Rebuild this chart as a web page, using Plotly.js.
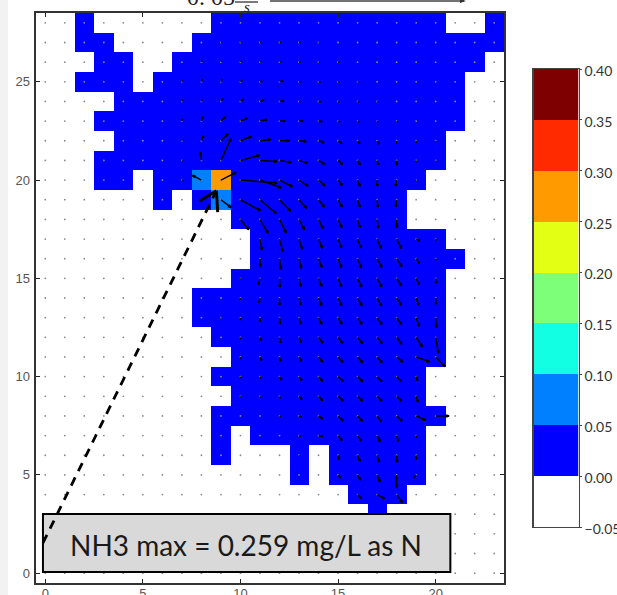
<!DOCTYPE html>
<html>
<head>
<meta charset="utf-8">
<script src="https://cdn.plot.ly/plotly-3.0.1.min.js"></script>
<style>html,body{margin:0;padding:0;background:#fff;overflow:hidden}#chart{width:617px;height:595px}</style>
</head>
<body>
<div id="chart"></div>
<script>
// Concentration grid, top row is y=28. '.' dry, '#' 0-0.05, '1' 0.05-0.10, '5' the maximum cell
const gridRows = [
"..#......############..#",
"..##....################",
"...##..################.",
"..###.################..",
"....##################..",
"...###################..",
"....#################...",
"...##################...",
"...##.##15##########....",
"......#.#1#########.....",
"..........#########.....",
"...........##########...",
"...........###########..",
"..........###########...",
"........#############...",
"........#############...",
".........############...",
"..........###########...",
".........###########....",
"..........##########....",
".........############...",
".........#.#########....",
".........#...#.#####....",
".............#.#####....",
"................###.....",
".................#......",
"........................",
"........................",
"........................"
];
const cellValues = {'#':0.02,'1':0.07,'5':0.259};

const levelEdges = [-0.05,0,0.05,0.10,0.15,0.20,0.25,0.30,0.35,0.40];
const levelColors = ['#ffffff','#0000ff','#0080ff','#13ffe3','#7dff7a','#e3ff13','#ff9a00','#ff2a00','#7f0000'];
const levelLabels = ['−0.05','0.00','0.05','0.10','0.15','0.20','0.25','0.30','0.35','0.40'];
const xTicks = [0,5,10,15,20];
const yTicks = [0,5,10,15,20,25];
const noteText = 'NH3 max = 0.259 mg/L as N';

// Velocity arrows per row: [column, u, v]
const q27=[[9,1,.5],[10,1,.5],[11,1.5,.5],[12,1.5,0],[13,1.5,0],[14,1,0]];
const q26=[[8,1,1.5],[9,1.2,1.5],[10,1.5,1.5],[11,2,1],[12,2,.5],[13,2,.2],[14,1.5,0],[15,1,0]];
const q25=[[7,.7,1.5],[8,1,2.5],[9,1.5,2.5],[10,2,2],[11,2.5,1.2],[12,3,1],[13,2.5,.3],[14,2.2,0],[15,1.5,0],[16,1,0]];
const q24=[[7,.7,2.2],[8,1,2.5],[9,1.7,2.5],[10,2.6,2],[11,3.6,1.5],[12,4,.5],[13,3,0],[14,2.7,-.3],[15,2,-.7],[16,1.3,-1],[17,.7,-.7]];
const q23=[[7,.3,2.5],[8,1,4],[9,4,4],[10,7,3],[11,7,1.5],[12,5.3,0],[13,3.7,0],[14,3.3,-.5],[15,2.5,-.7],[16,1.7,-1],[17,1.3,-1.2],[18,1,-1]];
const q22=[[7,0,1.5],[8,2,4.7],[9,7,7],[10,11,4.3],[11,10.7,1.3],[12,10,0],[13,7,-.7],[14,5,-1.7],[15,3.5,-2.3],[16,2,-2.7],[17,1.5,-3],[18,0,-3],[19,0,-2.5],[20,0,-1]];
const q21=[[7,.7,-1],[8,-1,8.3],[9,10,21.7],[10,19,5],[11,17,-1],[12,11.7,-2],[13,8.3,-2.7],[14,6,-3.7],[15,4,-3.7],[16,2.3,-4],[17,1,-4],[18,0,-4.5],[19,-.5,-2],[20,0,-1]];
const q20=[[7,1.3,-.7],[8,-9,4.7],[9,15,7.7],[10,36.7,-3],[11,21,-7.7],[12,13,-6.7],[13,9,-6],[14,6.3,-5.7],[15,4,-5.3],[16,2.3,-5.7],[17,.3,-5.7],[18,-1,-5.7],[19,-1,-1]];
const q19=[[9,10,-7.7],[10,20,-11],[11,16.3,-13.7],[12,11,-11.3],[13,7.5,-8.5],[14,5.7,-7.5],[15,4.2,-7.4],[16,2.5,-7.4],[17,.8,-7.4],[18,-.7,-7.3]];
const q18=[[10,8.3,-10.3],[11,8,-13.7],[12,6.7,-13.7],[13,5.3,-10.3],[14,4.5,-9.2],[15,3.8,-8.3],[16,2.7,-8.3],[17,1.2,-8.8],[18,0,-8.2]];
const q17=[[11,2,-11],[12,3.3,-12.7],[13,3.3,-10.3],[14,3.7,-9.3],[15,3.5,-9],[16,3.5,-9],[17,4,-9.3],[18,4.7,-9.3],[19,3,-1.7],[20,.7,-1.7]];
const q16=[[11,.3,-8],[12,1.3,-10.7],[13,2.3,-9.7],[14,3.3,-8.8],[15,3.4,-8.7],[16,3.7,-9],[17,4.7,-9],[18,5.3,-8],[19,3.3,-4.7],[20,.3,-2.3]];
const q15=[[10,-.3,-1],[11,-1.8,-6.3],[12,.3,-9],[13,2,-8.3],[14,3.2,-8],[15,3.4,-8.2],[16,4,-8.7],[17,4.7,-8.7],[18,4.7,-7],[19,3,-6],[20,.3,-4.3]];
const q14=[[10,-.5,-2],[11,-1,-4.3],[12,0,-7],[13,1.7,-6.7],[14,3,-7.4],[15,3.5,-7.4],[16,4.3,-7.7],[17,4.3,-7.7],[18,4.7,-7],[19,2.3,-7],[20,.3,-6]];
const q13=[[9,.3,-.7],[10,0,-2.5],[11,0,-3.7],[12,.7,-5.7],[13,1.7,-5.7],[14,3.2,-6.4],[15,3.8,-6.4],[16,4.3,-6.7],[17,4.7,-6.7],[18,4.7,-6.7],[19,3,-8.7],[20,.7,-10]];
const q12=[[10,.3,-1.7],[11,1,-3],[12,1,-5],[13,2.3,-5],[14,4.3,-5.7],[15,4.7,-6.3],[16,5,-6.3],[17,5,-6.3],[18,5,-7],[19,6.3,-9.7],[20,2.7,-15.7]];
const q11=[[10,.7,-2.3],[11,1.3,-3.3],[12,1.3,-4],[13,2.3,-4],[14,3.7,-4.7],[15,4.7,-5.3],[16,5,-5.7],[17,5,-5.7],[18,6,-5],[19,13,-4.7],[20,9.3,-9.7]];
const q10=[[10,.7,-1.7],[11,1,-2.3],[12,1.7,-3],[13,2.5,-3.7],[14,3.7,-4.3],[15,5,-4.7],[16,5,-5],[17,4.7,-5],[18,4.7,-4.7],[19,1.3,-3.7]];
const q9=[[10,.3,-1],[11,.7,-1.3],[12,1.2,-2],[13,2.5,-2.7],[14,3.7,-4],[15,5,-4.7],[16,4.7,-4.7],[17,4.7,-4.7],[18,4.7,-4.7],[19,1.7,-5.3]];
const q8=[[12,1.3,-1],[13,2.7,-1.3],[14,3.7,-2.7],[15,5,-5],[16,4.7,-5],[17,4,-5.7],[18,5.3,-5],[19,9.3,-4.3],[20,13.3,0]];
const q7=[[13,2.3,-1],[14,3.7,-1],[15,3.7,-4.7],[16,3.7,-5.3],[17,3,-6],[18,1.7,-5.3],[19,.7,-2.3]];
const q6=[[13,.3,-1],[15,.7,-3.7],[16,2.3,-5.7],[17,2,-6.7],[18,.3,-7],[19,0,-3.7]];
const q5=[[15,2.3,-2.7],[16,2.7,-4.7],[17,3,-7],[18,-.3,-12.7],[19,-2.3,-2.7]];
const q4=[[16,3.7,-4],[17,7.3,-4],[18,5.7,-8.3]];
const quiverRows=[[27,q27],[26,q26],[25,q25],[24,q24],[23,q23],[22,q22],[21,q21],[20,q20],[19,q19],[18,q18],[17,q17],[16,q16],[15,q15],[14,q14],[13,q13],[12,q12],[11,q11],[10,q10],[9,q9],[8,q8],[7,q7],[6,q6],[5,q5],[4,q4]];

const W=617,H=595;
const px=v=>v/W, py=v=>1-v/H;
const SX=19.55, SY=19.66;

// heatmap
const nRows=gridRows.length;
const xs=Array.from({length:24},(_,i)=>i);
const ys=Array.from({length:nRows},(_,i)=>i);
const z=ys.map(y=>gridRows[nRows-1-y].split('').map(c=>c in cellValues?cellValues[c]:null));
const cs=[];
levelColors.forEach((c,i)=>{cs.push([i/levelColors.length,c]);cs.push([(i+1)/levelColors.length,c]);});

// node dots
const dotX=[],dotY=[];
ys.forEach(y=>xs.forEach(x=>{dotX.push(x);dotY.push(y);}));

// arrows
const ax=[],ay=[];
quiverRows.forEach(([y,row])=>row.forEach(([x,u,v])=>{
  const tx=x+u/SX, ty=y+v/SY;
  ax.push(x,tx,null); ay.push(y,ty,null);
  const len=Math.hypot(u,v);
  if(len>3){
    const h=Math.min(3,len*0.3), w=1.1;
    const ux=u/len, uy=v/len;
    ax.push(tx-(ux*h+uy*w)/SX,tx,tx-(ux*h-uy*w)/SX,null);
    ay.push(ty-(uy*h-ux*w)/SY,ty,ty-(uy*h+ux*w)/SY,null);
  }
}));

const barMids=levelEdges.slice(0,-1).map((e,i)=>(e+levelEdges[i+1])/2);

const traces=[
 {type:'heatmap',x:xs,y:ys,z:z,zmin:-0.05,zmax:0.40,colorscale:cs,showscale:false,hoverinfo:'skip',xaxis:'x',yaxis:'y',hoverongaps:false},
 {type:'scatter',mode:'markers',x:dotX,y:dotY,marker:{size:1.8,color:'#8a8a8a'},hoverinfo:'skip',xaxis:'x',yaxis:'y',showlegend:false},
 {type:'scatter',mode:'lines',x:ax,y:ay,line:{color:'#000',width:1.5},hoverinfo:'skip',xaxis:'x',yaxis:'y',showlegend:false,connectgaps:false},
 {type:'heatmap',x:[0],y:barMids,z:barMids.map(v=>[v]),zmin:-0.05,zmax:0.40,colorscale:cs,showscale:false,hoverinfo:'skip',xaxis:'x2',yaxis:'y2'}
];

// pointer and note geometry in axis units
const dX=p=>(p-45.3)/SX, dY=p=>(573.2-p)/SY;
const lineD={type:'line',xref:'x',yref:'y',x0:dX(43),y0:dY(543),x1:dX(216),y1:dY(192),line:{color:'#000',width:2.8,dash:'9px,7px'}};
const shapes=[
 {type:'rect',xref:'paper',yref:'paper',x0:0,x1:px(8),y0:0,y1:1,fillcolor:'#f2f2f2',line:{width:0},layer:'below'},
 {type:'rect',xref:'x',yref:'y',x0:dX(43),x1:dX(451),y0:dY(572),y1:dY(514),fillcolor:'#d9d9d9',line:{color:'#000',width:2}},
 lineD,
 {type:'line',xref:'x',yref:'y',x0:dX(200),y0:dY(201),x1:dX(216.7),y1:dY(190.7),line:{color:'#000',width:3}},
 {type:'line',xref:'x',yref:'y',x0:dX(218),y0:dY(212),x1:dX(216.7),y1:dY(190.7),line:{color:'#000',width:3}},
 {type:'line',xref:'paper',yref:'paper',x0:px(235),x1:px(258),y0:py(2),y1:py(2),line:{color:'#333',width:1.3}},
 {type:'line',xref:'paper',yref:'paper',x0:px(270),x1:px(464),y0:py(1),y1:py(1),line:{color:'#444',width:1.3}},
 {type:'path',xref:'paper',yref:'paper',path:`M ${px(460)} ${py(-1)} L ${px(466)} ${py(1)} L ${px(460)} ${py(3)} Z`,fillcolor:'#333',line:{width:0}}
];

const annotations=[
 {text:noteText,xref:'paper',yref:'paper',x:px(246.5),y:py(545),xanchor:'center',yanchor:'middle',showarrow:false,font:{family:'Lato',size:28,color:'#1a1a1a'}},
 {text:'0. 05',xref:'paper',yref:'paper',x:px(211),y:py(12),xanchor:'center',yanchor:'bottom',showarrow:false,font:{family:'Liberation Serif',size:24,color:'#222'}},
 {text:'<i>s</i>',xref:'paper',yref:'paper',x:px(247),y:py(7),xanchor:'center',yanchor:'middle',showarrow:false,font:{family:'Liberation Serif',size:15,color:'#222'}}
];

const tickFont={family:'Liberation Sans',size:13,color:'#555'};
const layout={
 width:W,height:H,margin:{l:0,r:0,t:0,b:0,pad:0},paper_bgcolor:'#fff',plot_bgcolor:'#fff',showlegend:false,
 xaxis:{domain:[px(35.5),px(504)],range:[-0.5,23.5],tickvals:xTicks,ticks:'inside',ticklen:4,tickwidth:1,tickcolor:'#222',ticklabelstandoff:-3,
   showgrid:false,zeroline:false,showline:true,linecolor:'#333',linewidth:2,mirror:'ticks',tickfont:tickFont,anchor:'y'},
 yaxis:{domain:[py(583),py(13)],range:[-0.5,28.5],tickvals:yTicks,ticks:'inside',ticklen:4,tickwidth:1,tickcolor:'#222',ticklabelstandoff:1,
   showgrid:false,zeroline:false,showline:true,linecolor:'#333',linewidth:2,mirror:'ticks',tickfont:tickFont,anchor:'x'},
 xaxis2:{domain:[px(533.5),px(578.5)],range:[-0.5,0.5],showticklabels:false,ticks:'',showgrid:false,zeroline:false,showline:true,linecolor:'#444',linewidth:1.3,mirror:true,anchor:'y2'},
 yaxis2:{domain:[py(527),py(69)],range:[-0.05,0.40],side:'right',tickvals:levelEdges,ticktext:levelLabels,ticks:'outside',ticklen:2,tickwidth:1,tickcolor:'#444',ticklabelshift:2,
   showgrid:false,zeroline:false,showline:true,linecolor:'#444',linewidth:1.3,mirror:true,tickfont:{family:'Lato',size:14,color:'#333'},anchor:'x2'},
 shapes:shapes,annotations:annotations
};
Plotly.newPlot('chart',traces,layout,{displayModeBar:false,staticPlot:true});
</script>
</body>
</html>
